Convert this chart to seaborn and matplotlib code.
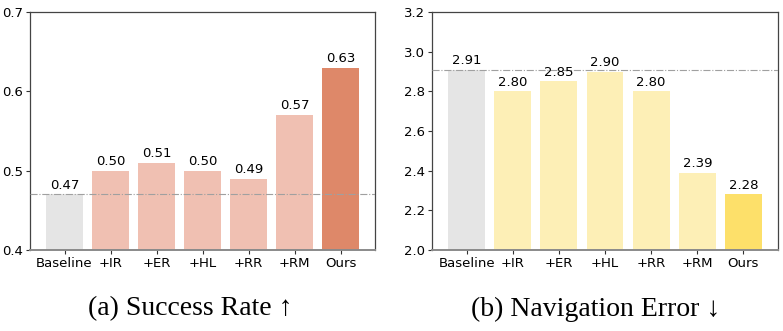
import matplotlib
matplotlib.use("Agg")
import matplotlib.pyplot as plt
import seaborn as sns
import pandas as pd

methods = ["Baseline", "+IR", "+ER", "+HL", "+RR", "+RM", "Ours"]
success_rate = [0.47, 0.50, 0.51, 0.50, 0.49, 0.57, 0.63]
nav_error = [2.91, 2.80, 2.85, 2.90, 2.80, 2.39, 2.28]

sr_colors = ["#e5e5e5", "#f0c0b2", "#f0c0b2", "#f0c0b2", "#f0c0b2", "#f0c0b2", "#de8869"]
ne_colors = ["#e5e5e5", "#fdefb6", "#fdefb6", "#fdefb6", "#fdefb6", "#fdefb6", "#fde06a"]

sns.set_style("white")
plt.rcParams["font.family"] = ["DejaVu Sans"]

fig = plt.figure(figsize=(7.83, 3.31), dpi=100)
ax1 = fig.add_axes([30 / 783, 1 - 250 / 331, 345 / 783, 238 / 331])
ax2 = fig.add_axes([432 / 783, 1 - 250 / 331, 346 / 783, 238 / 331])


def draw(ax, values, colors, ylim, yticks, fmt, title, title_x):
    df = pd.DataFrame({"method": methods, "value": values})
    sns.barplot(data=df, x="method", y="value", hue="method", palette=colors,
                legend=False, width=0.8, ax=ax, saturation=1, linewidth=0)
    ax.set_xlim(-0.75, 6.75)
    ax.set_ylim(*ylim)
    ax.set_yticks(yticks)
    ax.set_yticklabels([fmt.format(t) for t in yticks])
    ax.axhline(values[0], color="#a0a0a0", lw=0.8, ls="-.", zorder=3)
    for container in ax.containers:
        ax.bar_label(container, fmt="%.2f", padding=2, fontsize=9.5, color="black")
    ax.set_xlabel("")
    ax.set_ylabel("")
    ax.tick_params(axis="both", labelsize=9.5, length=3, width=0.8,
                   colors="#333333", labelcolor="black", bottom=True, left=True,
                   pad=2)
    for side in ["top", "right", "left"]:
        ax.spines[side].set_color("#444444")
        ax.spines[side].set_linewidth(0.9)
    ax.spines["bottom"].set_color("#8a8a8a")
    ax.spines["bottom"].set_linewidth(1.4)
    ax.set_facecolor("white")
    fig.text(title_x, 1 - 309 / 331, title, ha="center", va="center", color="black",
             fontsize=20, family=["Liberation Serif", "DejaVu Serif"])


draw(ax1, success_rate, sr_colors, (0.4, 0.7), [0.4, 0.5, 0.6, 0.7], "{:.1f}",
     "(a) Success Rate \u2191", 190 / 783)
draw(ax2, nav_error, ne_colors, (2.0, 3.2), [2.0, 2.2, 2.4, 2.6, 2.8, 3.0, 3.2], "{:.1f}",
     "(b) Navigation Error \u2193", 596 / 783)

fig.savefig("out.png", dpi=100)
